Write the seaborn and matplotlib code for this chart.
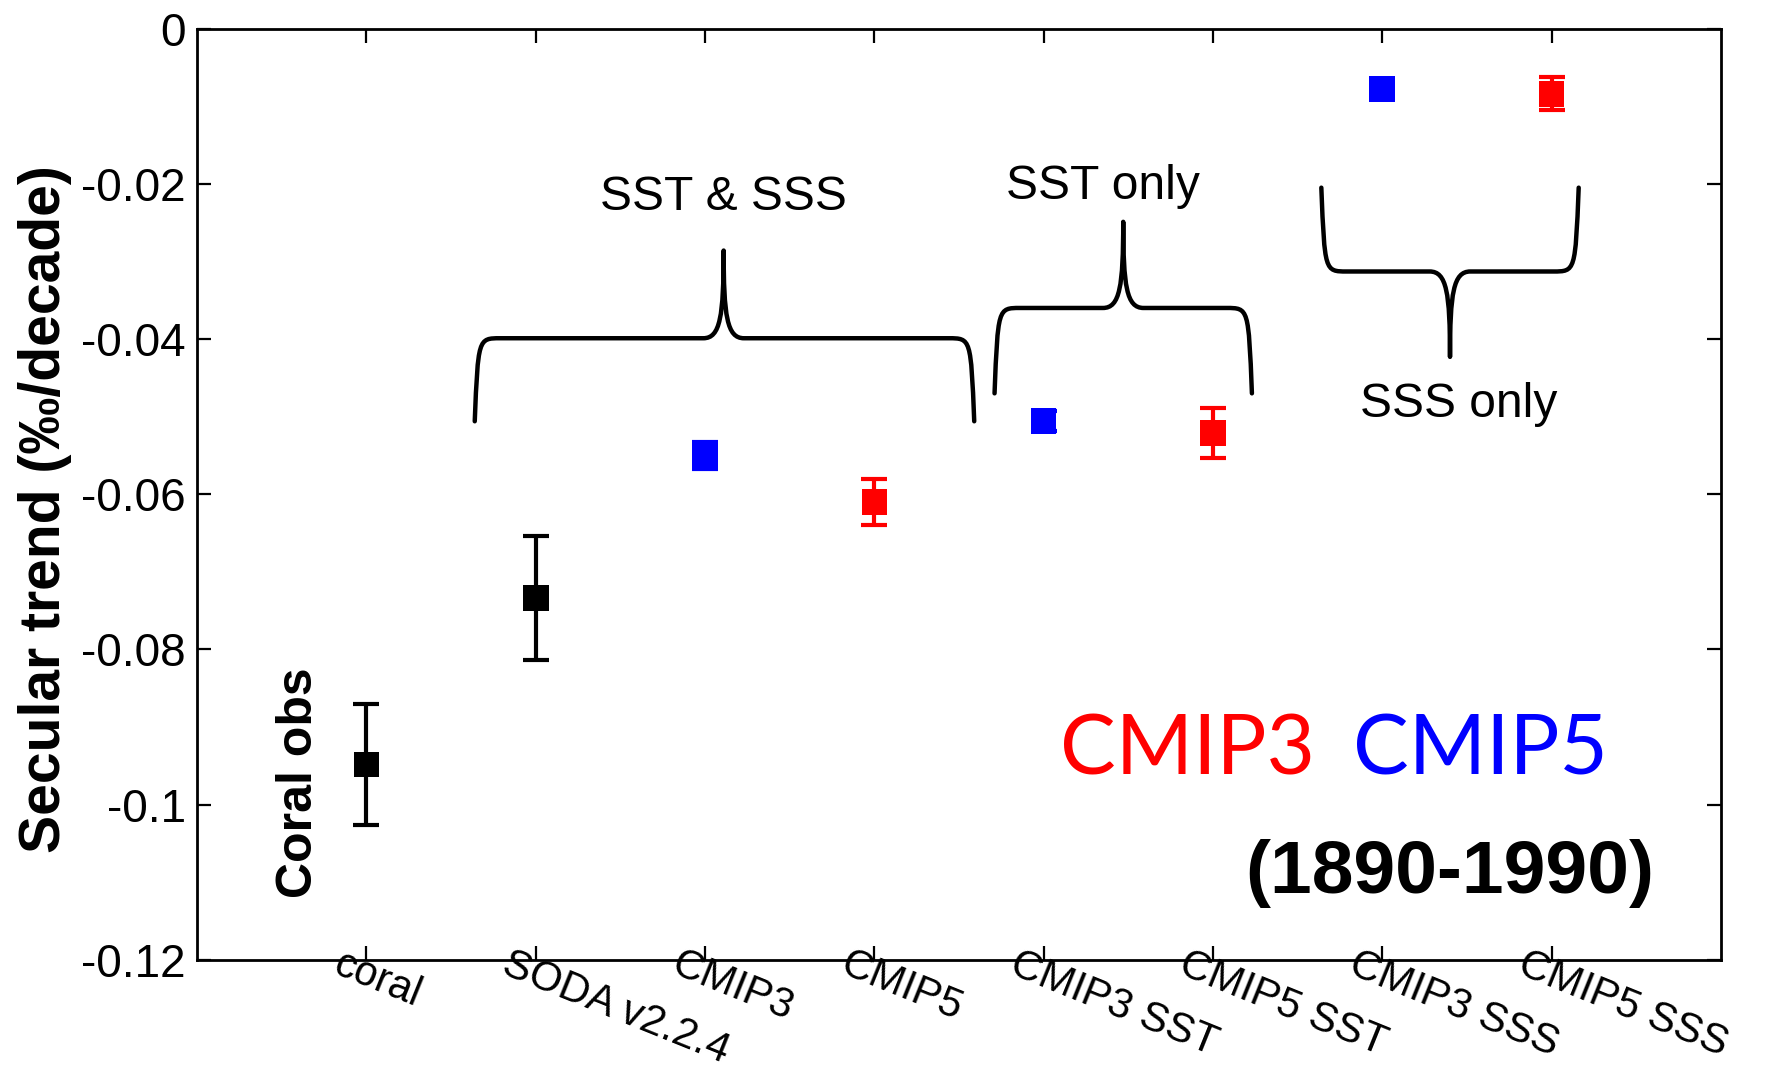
import numpy as np
import pandas as pd
import seaborn as sns
import matplotlib.pyplot as plt
from matplotlib.path import Path
from matplotlib.patches import PathPatch
from matplotlib.transforms import ScaledTranslation

# data
categories = ["coral", "SODA v2.2.4", "CMIP3", "CMIP5",
              "CMIP3 SST", "CMIP5 SST", "CMIP3 SSS", "CMIP5 SSS"]
trend = [-0.0948, -0.0734, -0.0550, -0.0610, -0.0506, -0.0521, -0.0078, -0.0084]
err = [0.0078, 0.0080, 0.0017, 0.0030, 0.0013, 0.0032, 0.0008, 0.0021]
group = ["obs", "obs", "CMIP5", "CMIP3", "CMIP5", "CMIP3", "CMIP5", "CMIP3"]
ytick_vals = [0, -0.02, -0.04, -0.06, -0.08, -0.1, -0.12]
ytick_labels = ["0", "-0.02", "-0.04", "-0.06", "-0.08", "-0.1", "-0.12"]

palette = {"obs": "black", "CMIP3": "#ff0000", "CMIP5": "#0000ff"}

df = pd.DataFrame({"pos": np.arange(1, len(categories) + 1),
                   "trend": trend, "err": err, "group": group})


def brace(ax, x0, x1, y_base, y_end, x_tip, y_tip):
    # curly brace drawn as a bezier path in data coordinates
    h = 0.15
    verts = [
        (x0, y_end),
        (x0 + 0.02, y_base), (x0 + 0.02, y_base), (x0 + h, y_base),
        (x_tip - 0.12, y_base),
        (x_tip - 0.02, y_base), (x_tip, y_base + 0.25 * (y_tip - y_base)), (x_tip, y_tip),
        (x_tip, y_base + 0.25 * (y_tip - y_base)), (x_tip + 0.02, y_base), (x_tip + 0.12, y_base),
        (x1 - h, y_base),
        (x1 - 0.02, y_base), (x1 - 0.02, y_base), (x1, y_end),
    ]
    codes = [Path.MOVETO,
             Path.CURVE4, Path.CURVE4, Path.CURVE4,
             Path.LINETO,
             Path.CURVE4, Path.CURVE4, Path.CURVE4,
             Path.CURVE4, Path.CURVE4, Path.CURVE4,
             Path.LINETO,
             Path.CURVE4, Path.CURVE4, Path.CURVE4]
    ax.add_patch(PathPatch(Path(verts, codes), fill=False, lw=3.2,
                           edgecolor="black", capstyle="round", joinstyle="round"))


sns.set_style("ticks")
plt.rcParams["font.family"] = ["Liberation Sans", "DejaVu Sans"]
plt.rcParams["text.color"] = "black"
plt.rcParams["axes.labelcolor"] = "black"
plt.rcParams["xtick.color"] = "black"
plt.rcParams["ytick.color"] = "black"
plt.rcParams["axes.edgecolor"] = "black"

fig = plt.figure(figsize=(17.85, 10.69), dpi=100)
ax = fig.add_axes([0.1104, 0.102, 0.8537, 0.8713])

for _, row in df.iterrows():
    ax.errorbar(row["pos"], row["trend"], yerr=row["err"], fmt="none",
                ecolor=palette[row["group"]], elinewidth=3.0, capsize=9.5,
                capthick=3.0, zorder=2)
sns.scatterplot(data=df, x="pos", y="trend", hue="group", palette=palette,
                marker="s", s=340, edgecolor="none", legend=False, ax=ax, zorder=3)

ax.set_xlim(0, 9)
ax.set_ylim(-0.12, 0)
ax.tick_params(direction="in", length=10, width=1.6, top=True, right=True)
ax.tick_params(axis="y", pad=8)
ax.tick_params(axis="x", pad=0)
ax.set_yticks(ytick_vals)
ax.set_yticklabels(ytick_labels, fontsize=33)
ax.set_xticks(df["pos"])
ax.set_xticklabels(categories, fontsize=30, rotation=-22, ha="left",
                   va="top", rotation_mode="anchor")
offset = ScaledTranslation(-24 / 100, 16 / 100, fig.dpi_scale_trans)
for lab in ax.get_xticklabels():
    lab.set_transform(lab.get_transform() + offset)
for sp in ax.spines.values():
    sp.set_linewidth(2)
ax.set_xlabel("")
ax.set_ylabel("Secular trend (‰/decade)", fontsize=41, fontweight="bold")
ax.yaxis.set_label_coords(-0.082, 0.484)

# group braces and labels
brace(ax, 1.64, 4.59, -0.0399, -0.0506, 3.11, -0.0286)
brace(ax, 4.71, 6.23, -0.0360, -0.0470, 5.47, -0.0249)
brace(ax, 6.64, 8.16, -0.0313, -0.0205, 7.40, -0.0423)
ax.text(3.11, -0.0218, "SST & SSS", fontsize=34.5, ha="center", va="center")
ax.text(5.35, -0.0203, "SST only", fontsize=34.5, ha="center", va="center")
ax.text(7.45, -0.0485, "SSS only", fontsize=34.5, ha="center", va="center")

ax.text(0.6, -0.0972, "Coral obs", fontsize=36, fontweight="bold",
        rotation=90, ha="center", va="center")
ax.text(5.85, -0.0932, "CMIP3", fontsize=60, color="#ff0000", family="Lato",
        ha="center", va="center")
ax.text(7.58, -0.0932, "CMIP5", fontsize=60, color="#0000ff", family="Lato",
        ha="center", va="center")
ax.text(7.4, -0.1088, "(1890-1990)", fontsize=54, fontweight="bold",
        ha="center", va="center")

fig.savefig("out.png", dpi=100)
